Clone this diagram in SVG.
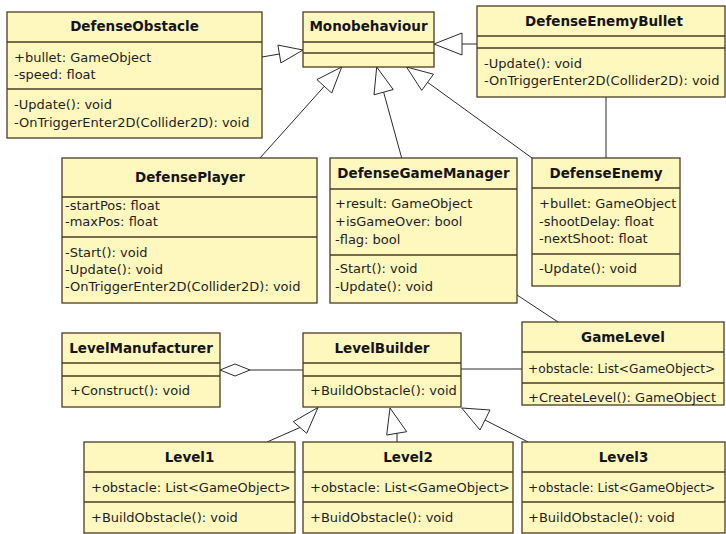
<svg xmlns="http://www.w3.org/2000/svg" width="726" height="534" viewBox="0 0 726 534">
  <style>
    .box { fill: #FFF8BE; stroke: #4B3B26; stroke-width: 1.3; }
    .div { stroke: #4B3B26; stroke-width: 1.3; }
    .title { font-family: "DejaVu Sans", sans-serif; font-weight: bold; font-size: 13.5px; fill: #151515; text-anchor: middle; }
    .txt { font-family: "DejaVu Sans", sans-serif; font-size: 13px; fill: #1e1e1e; }
    .txt.narrow { font-size: 12.2px; }
    .edge { stroke: #2a2a2a; stroke-width: 1; fill: none; }
    .gen { fill: #ffffff; stroke: #2a2a2a; stroke-width: 1; }
  </style>
  <rect width="726" height="534" fill="#ffffff"/>

  <!-- relations -->
  <g id="connectors">
    <!-- DefenseObstacle generalizes Monobehaviour -->
    <line class="edge" x1="262" y1="57" x2="279.4" y2="54"/>
    <polygon class="gen" points="303,50 280.9,62.9 277.9,45.1"/>
    <!-- DefenseEnemyBullet generalizes Monobehaviour -->
    <line class="edge" x1="462" y1="44" x2="477" y2="44"/>
    <polygon class="gen" points="434,44 462,33 462,55"/>
    <!-- DefensePlayer generalizes Monobehaviour -->
    <line class="edge" x1="260" y1="158" x2="324.3" y2="86.3"/>
    <polygon class="gen" points="341.7,67 331.7,93 316.9,79.6"/>
    <!-- DefenseGameManager generalizes Monobehaviour -->
    <line class="edge" x1="401.7" y1="158" x2="383.6" y2="92.1"/>
    <polygon class="gen" points="376.7,67 393.2,89.5 374,94.8"/>
    <!-- DefenseEnemy generalizes Monobehaviour -->
    <line class="edge" x1="532" y1="158" x2="427.6" y2="82.3"/>
    <polygon class="gen" points="406.5,67 433.5,74.2 421.7,90.4"/>
    <!-- DefenseEnemyBullet to DefenseEnemy -->
    <line class="edge" x1="606" y1="97" x2="606" y2="158"/>
    <!-- DefenseGameManager to GameLevel -->
    <line class="edge" x1="517" y1="295" x2="558" y2="322"/>
    <!-- LevelManufacturer aggregates LevelBuilder -->
    <polygon class="gen" points="220,370 235,364 250,370 235,376"/>
    <line class="edge" x1="250" y1="370" x2="303" y2="370"/>
    <!-- LevelBuilder to GameLevel -->
    <line class="edge" x1="461" y1="369" x2="522" y2="369"/>
    <!-- Level1 / Level2 / Level3 generalize LevelBuilder -->
    <line class="edge" x1="267" y1="442" x2="300" y2="427.5"/>
    <polygon class="gen" points="318,407.5 306.7,433.3 293.3,421.7"/>
    <line class="edge" x1="397" y1="433" x2="397" y2="442"/>
    <polygon class="gen" points="390,408 406.7,431.7 386.7,435"/>
    <line class="edge" x1="528" y1="442" x2="485" y2="420"/>
    <polygon class="gen" points="461.7,408 490,410 480,430"/>
  </g>

  <g id="DefenseObstacle">
    <rect class="box" x="7" y="12" width="255" height="126"/>
    <line class="div" x1="7" y1="42" x2="262" y2="42"/>
    <line class="div" x1="7" y1="89" x2="262" y2="89"/>
    <text class="title" x="134.5" y="31">DefenseObstacle</text>
    <text class="txt" x="14" y="62">+bullet: GameObject</text>
    <text class="txt" x="14" y="79">-speed: float</text>
    <text class="txt" x="14" y="109">-Update(): void</text>
    <text class="txt" x="14" y="127">-OnTriggerEnter2D(Collider2D): void</text>
  </g>

  <g id="Monobehaviour">
    <rect class="box" x="303" y="12" width="131" height="55"/>
    <line class="div" x1="303" y1="42" x2="434" y2="42"/>
    <line class="div" x1="303" y1="53" x2="434" y2="53"/>
    <text class="title" x="368.5" y="31">Monobehaviour</text>
  </g>

  <g id="DefenseEnemyBullet">
    <rect class="box" x="477" y="6" width="248" height="91"/>
    <line class="div" x1="477" y1="36" x2="725" y2="36"/>
    <line class="div" x1="477" y1="48" x2="725" y2="48"/>
    <text class="title" x="604" y="26">DefenseEnemyBullet</text>
    <text class="txt" x="484" y="68">-Update(): void</text>
    <text class="txt" x="484" y="85">-OnTriggerEnter2D(Collider2D): void</text>
  </g>

  <g id="DefensePlayer">
    <rect class="box" x="62" y="158" width="255" height="145"/>
    <line class="div" x1="62" y1="197" x2="317" y2="197"/>
    <line class="div" x1="62" y1="237" x2="317" y2="237"/>
    <text class="title" x="190" y="182">DefensePlayer</text>
    <text class="txt" x="65" y="210">-startPos: float</text>
    <text class="txt" x="65" y="226">-maxPos: float</text>
    <text class="txt" x="65" y="257">-Start(): void</text>
    <text class="txt" x="65" y="274">-Update(): void</text>
    <text class="txt" x="65" y="291">-OnTriggerEnter2D(Collider2D): void</text>
  </g>

  <g id="DefenseGameManager">
    <rect class="box" x="330" y="158" width="187" height="145"/>
    <line class="div" x1="330" y1="189" x2="517" y2="189"/>
    <line class="div" x1="330" y1="255" x2="517" y2="255"/>
    <text class="title" x="423.5" y="178">DefenseGameManager</text>
    <text class="txt" x="335" y="208">+result: GameObject</text>
    <text class="txt" x="335" y="226">+isGameOver: bool</text>
    <text class="txt" x="335" y="244">-flag: bool</text>
    <text class="txt" x="335" y="273">-Start(): void</text>
    <text class="txt" x="335" y="291">-Update(): void</text>
  </g>

  <g id="DefenseEnemy">
    <rect class="box" x="532" y="158" width="148" height="128"/>
    <line class="div" x1="532" y1="188" x2="680" y2="188"/>
    <line class="div" x1="532" y1="254" x2="680" y2="254"/>
    <text class="title" x="606" y="178">DefenseEnemy</text>
    <text class="txt" x="539" y="208">+bullet: GameObject</text>
    <text class="txt" x="539" y="226">-shootDelay: float</text>
    <text class="txt" x="539" y="243">-nextShoot: float</text>
    <text class="txt" x="539" y="273">-Update(): void</text>
  </g>

  <g id="GameLevel">
    <rect class="box" x="522" y="322" width="202" height="83"/>
    <line class="div" x1="522" y1="352" x2="724" y2="352"/>
    <line class="div" x1="522" y1="383" x2="724" y2="383"/>
    <text class="title" x="623" y="342">GameLevel</text>
    <text class="txt narrow" x="528" y="373">+obstacle: List&lt;GameObject&gt;</text>
    <text class="txt" x="528" y="402">+CreateLevel(): GameObject</text>
  </g>

  <g id="LevelManufacturer">
    <rect class="box" x="62" y="333" width="158" height="74"/>
    <line class="div" x1="62" y1="363" x2="220" y2="363"/>
    <line class="div" x1="62" y1="376" x2="220" y2="376"/>
    <text class="title" x="141" y="353">LevelManufacturer</text>
    <text class="txt" x="70" y="395">+Construct(): void</text>
  </g>

  <g id="LevelBuilder">
    <rect class="box" x="303" y="333" width="158" height="74"/>
    <line class="div" x1="303" y1="363" x2="461" y2="363"/>
    <line class="div" x1="303" y1="376" x2="461" y2="376"/>
    <text class="title" x="382" y="353">LevelBuilder</text>
    <text class="txt" x="310" y="395">+BuildObstacle(): void</text>
  </g>

  <g id="Level1">
    <rect class="box" x="84" y="442" width="211" height="91"/>
    <line class="div" x1="84" y1="472" x2="295" y2="472"/>
    <line class="div" x1="84" y1="502" x2="295" y2="502"/>
    <text class="title" x="189.5" y="462">Level1</text>
    <text class="txt" x="91" y="492">+obstacle: List&lt;GameObject&gt;</text>
    <text class="txt" x="91" y="522">+BuildObstacle(): void</text>
  </g>

  <g id="Level2">
    <rect class="box" x="303" y="442" width="210" height="91"/>
    <line class="div" x1="303" y1="472" x2="513" y2="472"/>
    <line class="div" x1="303" y1="502" x2="513" y2="502"/>
    <text class="title" x="408" y="462">Level2</text>
    <text class="txt" x="310" y="492">+obstacle: List&lt;GameObject&gt;</text>
    <text class="txt" x="310" y="522">+BuidObstacle(): void</text>
  </g>

  <g id="Level3">
    <rect class="box" x="522" y="442" width="203" height="91"/>
    <line class="div" x1="522" y1="472" x2="725" y2="472"/>
    <line class="div" x1="522" y1="502" x2="725" y2="502"/>
    <text class="title" x="623.5" y="462">Level3</text>
    <text class="txt narrow" x="528" y="492">+obstacle: List&lt;GameObject&gt;</text>
    <text class="txt" x="528" y="522">+BuildObstacle(): void</text>
  </g>
</svg>
